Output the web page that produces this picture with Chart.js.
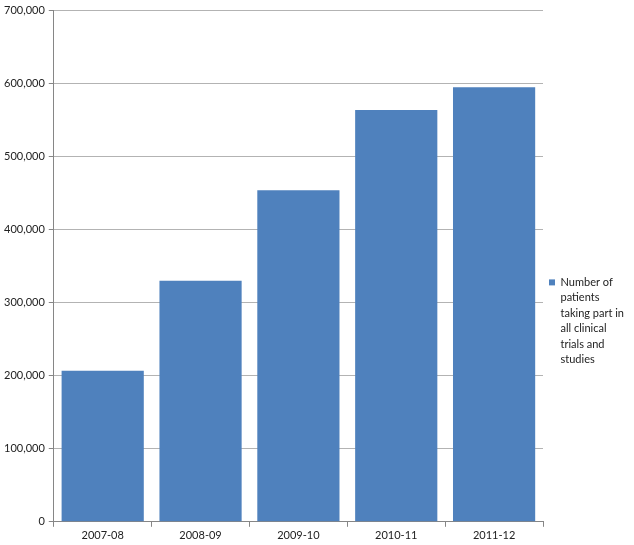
<!DOCTYPE html>
<html>
<head>
<meta charset="utf-8">
<script src="https://cdn.jsdelivr.net/npm/chart.js@4/dist/chart.umd.min.js"></script>
<style>
  html, body { margin: 0; padding: 0; background: #fff; }
  #wrap { width: 634px; height: 545px; position: relative; }
</style>
</head>
<body>
<div id="wrap"><canvas id="grafico"></canvas></div>
<script>
// datos
const years = ['2007-08', '2008-09', '2009-10', '2010-11', '2011-12'];
const patients = [207000, 330000, 454000, 564000, 595000];
const seriesName = ['Number of', 'patients', 'taking part in', 'all clinical', 'trials and', 'studies'];
const yTicks = [0, 100000, 200000, 300000, 400000, 500000, 600000, 700000];

let ctx = document.getElementById('grafico').getContext('2d');
let datos = {
    labels: years,
    datasets: [{
        label: seriesName,
        data: patients,
        backgroundColor: '#4F81BD',
        borderWidth: 0,
        barPercentage: 0.84,
        categoryPercentage: 1
    }]
};
let opciones = {
    responsive: true,
    maintainAspectRatio: false,
    animation: false,
    layout: { padding: { top: 3, right: 0, bottom: 1, left: 0 } },
    plugins: {
        tooltip: { enabled: false },
        legend: {
            position: 'right',
            align: 'center',
            // titulo vacio para bajar la leyenda como en el original
            title: { display: true, text: '', padding: { top: 0, bottom: 86 }, font: { size: 11 } },
            labels: {
                boxWidth: 6,
                boxHeight: 6,
                padding: 6,
                color: '#222',
                font: { family: 'Lato', size: 11, lineHeight: 1.4 }
            }
        }
    },
    scales: {
        x: {
            offset: true,
            grid: {
                offset: true,
                drawOnChartArea: false,
                drawTicks: true,
                tickLength: 5,
                color: '#868686'
            },
            border: { color: '#868686' },
            ticks: { color: '#222', font: { family: 'Lato', size: 11 }, padding: 2, maxRotation: 0 }
        },
        y: {
            min: 0,
            max: 700000,
            afterBuildTicks: function (axis) {
                axis.ticks = yTicks.map(v => ({ value: v }));
            },
            grid: {
                color: '#b3b3b3',
                tickLength: 5,
                tickColor: '#868686'
            },
            border: { color: '#868686' },
            ticks: {
                color: '#222',
                font: { family: 'Lato', size: 11 },
                padding: 4,
                callback: v => v.toLocaleString('en-US')
            }
        }
    }
};
let G1 = new Chart(ctx, { type: 'bar', data: datos, options: opciones });
</script>
</body>
</html>
